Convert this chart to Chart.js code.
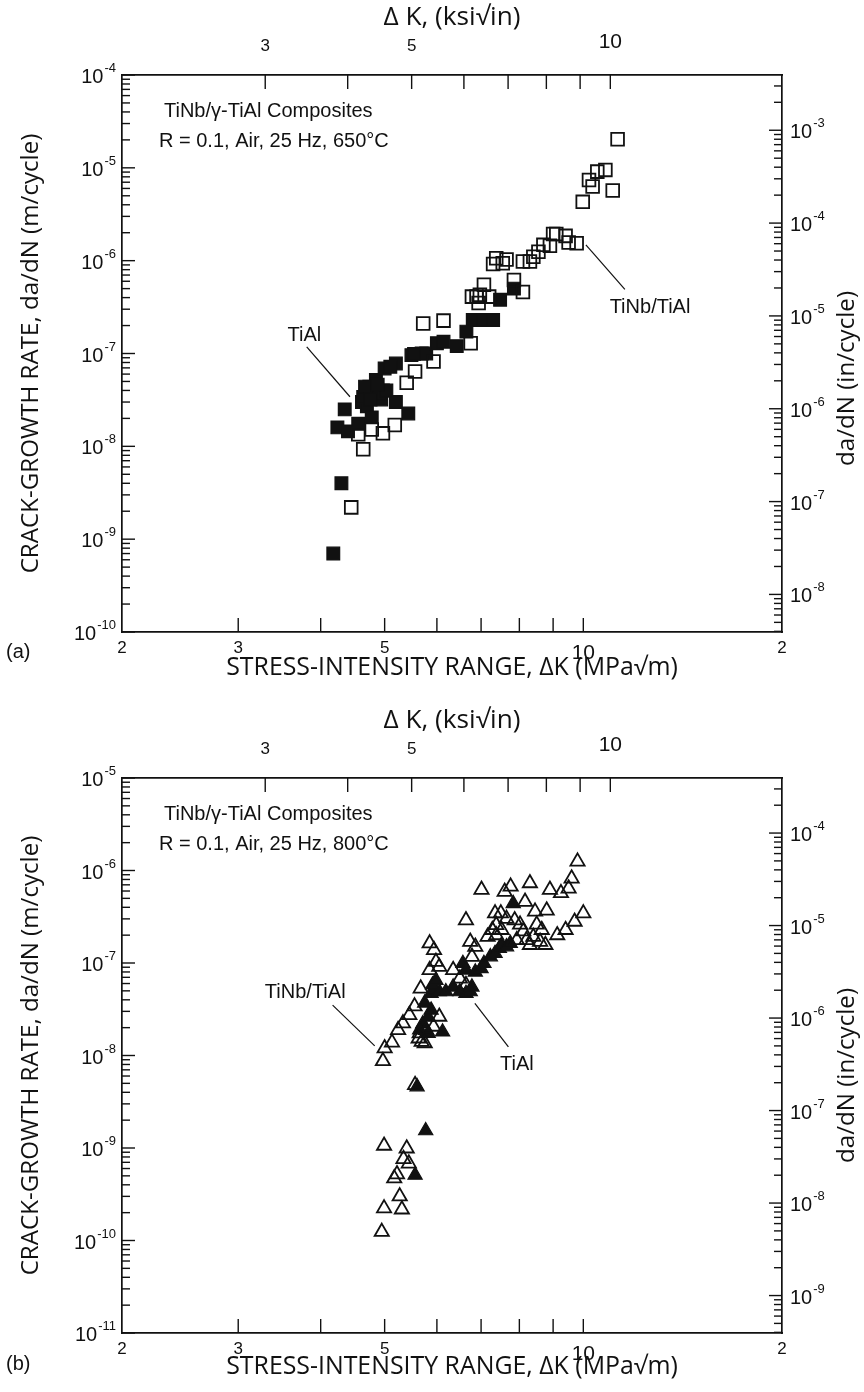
<!DOCTYPE html>
<html>
<head>
<meta charset="utf-8">
<script src="https://cdn.jsdelivr.net/npm/chart.js@4.4.1/dist/chart.umd.min.js"></script>
<style>
  html, body { margin: 0; padding: 0; background: #ffffff; }
  #wrap { position: relative; width: 864px; height: 1392px; background: #ffffff; overflow: hidden; }
  .panel { position: absolute; left: 0; width: 864px; height: 696px; }
  canvas { display: block; }
</style>
</head>
<body>
<div id="wrap">
  <div class="panel" style="top:0px"><canvas id="chartA" width="864" height="696"></canvas></div>
  <div class="panel" style="top:696px"><canvas id="chartB" width="864" height="696"></canvas></div>
</div>
<script>
// ---------------- DATA ----------------
// Panel (a): 650°C.  ΔK in MPa√m, da/dN in m/cycle
const a_TiAl_dK = [4.18, 4.30, 4.24, 4.40, 4.56, 4.35, 4.62, 4.74, 4.85, 4.97, 4.80, 4.94, 4.70, 4.64, 4.91, 5.03, 4.67, 4.88, 4.76, 5.00, 5.20, 5.10, 5.20, 5.43, 4.78, 5.49, 5.69, 5.54, 5.78, 6.00, 6.14, 6.43, 6.65, 6.80, 7.05, 7.30, 7.48, 7.85];
const a_TiAl_rate = [7.0e-10, 4.0e-9, 1.6e-8, 1.45e-8, 1.75e-8, 2.5e-8, 3.0e-8, 4.4e-8, 5.2e-8, 4.0e-8, 3.6e-8, 3.2e-8, 2.7e-8, 3.4e-8, 3.7e-8, 4.0e-8, 4.4e-8, 4.6e-8, 3.2e-8, 6.9e-8, 7.8e-8, 7.2e-8, 3.0e-8, 2.26e-8, 2.05e-8, 9.6e-8, 1.0e-7, 9.9e-8, 1.0e-7, 1.29e-7, 1.34e-7, 1.2e-7, 1.72e-7, 2.3e-7, 2.3e-7, 2.3e-7, 3.8e-7, 5.0e-7];
const a_TiNb_dK = [4.45, 4.64, 4.56, 4.78, 4.97, 5.18, 5.40, 5.56, 5.93, 5.72, 6.14, 6.75, 6.89, 7.07, 6.97, 7.20, 6.78, 6.94, 7.38, 7.65, 7.30, 7.55, 7.85, 8.10, 8.10, 8.30, 8.40, 8.55, 8.70, 8.90, 9.00, 9.10, 9.40, 9.50, 9.77, 9.98, 10.2, 10.33, 10.5, 10.8, 11.08, 11.27];
const a_TiNb_rate = [2.2e-9, 9.3e-9, 1.35e-8, 1.52e-8, 1.38e-8, 1.7e-8, 4.85e-8, 6.4e-8, 8.2e-8, 2.1e-7, 2.26e-7, 1.29e-7, 4.1e-7, 5.5e-7, 4.3e-7, 4.1e-7, 4.1e-7, 3.5e-7, 1.06e-6, 1.03e-6, 9.2e-7, 9.4e-7, 6.2e-7, 4.6e-7, 9.8e-7, 9.8e-7, 1.1e-6, 1.25e-6, 1.48e-6, 1.45e-6, 1.94e-6, 1.94e-6, 1.85e-6, 1.57e-6, 1.54e-6, 4.3e-6, 7.4e-6, 6.3e-6, 9.1e-6, 9.5e-6, 5.7e-6, 2.03e-5];

// Panel (b): 800°C
const b_TiAl_dK = [5.56, 5.77, 5.60, 7.83, 6.12, 5.71, 5.82, 5.88, 5.75, 5.88, 5.94, 6.05, 6.19, 6.35, 6.50, 6.64, 6.74, 6.78, 5.91, 5.98, 6.57, 6.64, 6.86, 7.00, 7.07, 7.23, 7.35, 7.46, 7.52, 7.65, 7.75, 5.65, 5.82];
const b_TiAl_rate = [5.1e-10, 1.54e-9, 4.6e-9, 4.4e-7, 1.8e-8, 2.2e-8, 2.6e-8, 3.1e-8, 3.7e-8, 4.7e-8, 5.1e-8, 4.9e-8, 4.9e-8, 5.5e-8, 4.9e-8, 4.7e-8, 4.9e-8, 5.5e-8, 5.8e-8, 6.5e-8, 9.9e-8, 8.4e-8, 8.0e-8, 8.7e-8, 9.9e-8, 1.17e-7, 1.27e-7, 1.44e-7, 1.57e-7, 1.5e-7, 1.63e-7, 1.9e-8, 1.74e-8];
const b_TiNb_dK = [4.95, 4.99, 5.31, 5.27, 5.17, 5.22, 5.44, 5.34, 5.40, 4.99, 5.56,
  4.97, 5.00, 5.13, 5.24, 5.33, 5.45, 5.55, 5.67, 5.85, 5.98, 5.85, 5.94, 6.05, 5.65, 5.78, 5.69, 5.75, 5.63, 5.93, 6.05,
  6.35, 6.50, 6.64, 6.64, 6.74, 6.86, 7.01, 6.78, 7.16, 7.28, 7.38, 7.35, 7.50, 7.60, 7.76, 7.38, 7.52, 7.65, 7.87, 8.02,
  8.11, 7.93, 8.16, 8.30, 8.20, 8.40, 8.60, 8.30, 8.45, 8.80, 8.76, 8.50, 8.65, 8.90, 9.13, 9.40, 9.70, 10.0, 9.25, 9.50,
  9.60, 9.80];
const b_TiNb_rate = [1.24e-10, 2.23e-10, 2.17e-10, 3.0e-10, 4.7e-10, 5.2e-10, 6.8e-10, 7.6e-10, 9.9e-10, 1.06e-9, 4.8e-9,
  8.7e-9, 1.2e-8, 1.38e-8, 1.89e-8, 2.23e-8, 2.74e-8, 3.4e-8, 5.3e-8, 8.4e-8, 1.03e-7, 1.63e-7, 1.38e-7, 9.1e-8, 1.74e-8, 1.89e-8, 1.41e-8, 1.36e-8, 1.53e-8, 2.05e-8, 2.63e-8,
  8.4e-8, 6.8e-8, 5.8e-8, 2.9e-7, 1.7e-7, 1.5e-7, 6.2e-7, 1.17e-7, 1.92e-7, 2.28e-7, 2.58e-7, 3.44e-7, 3.44e-7, 5.9e-7, 6.7e-7, 2.0e-7, 2.28e-7, 3.0e-7, 2.9e-7, 2.6e-7,
  2.2e-7, 1.77e-7, 4.6e-7, 7.3e-7, 1.77e-7, 1.92e-7, 1.7e-7, 1.57e-7, 3.6e-7, 3.7e-7, 1.57e-7, 2.6e-7, 2.28e-7, 6.2e-7, 2.0e-7, 2.28e-7, 2.8e-7, 3.44e-7, 5.7e-7, 6.4e-7,
  8.2e-7, 1.25e-6];

// Axis ticks / labels
const bottomLabelValues = [2, 3, 5, 10, 20];
const bottomLabelTexts = ['2', '3', '5', '10', '2'];
const bottomTickValues = [3, 4, 5, 6, 7, 8, 9, 10];
const topLabelValues = [3, 5, 10];
const topLabelTexts = ['3', '5', '10'];
const topTickValues = [3, 4, 5, 6, 7, 8, 9, 10];

// Unit conversions for the secondary axes
const IN_PER_M = 39.37;          // m/cycle -> in/cycle
const MPA_PER_KSI = 1.0988;      // ksi√in -> MPa√m

// Text
const boxLine1 = 'TiNb/γ-TiAl Composites';
const boxLine2a = 'R = 0.1, Air, 25 Hz, 650°C';
const boxLine2b = 'R = 0.1, Air, 25 Hz, 800°C';
const titleLeft = 'CRACK-GROWTH RATE, da/dN (m/cycle)';
const titleRight = 'da/dN (in/cycle)';
const titleBottom = 'STRESS-INTENSITY RANGE, ΔK (MPa√m)';
const titleTop = 'Δ K, (ksi√in)';

// Annotations (anchored in data coordinates)
const a_notes = [
  { text: 'TiAl', dK: 3.78, rate: 1.58e-7, from: [3.81, 1.18e-7], to: [4.43, 3.42e-8] },
  { text: 'TiNb/TiAl', dK: 12.62, rate: 3.17e-7, from: [10.09, 1.48e-6], to: [11.56, 4.9e-7] }
];
const b_notes = [
  { text: 'TiNb/TiAl', dK: 3.79, rate: 4.85e-8, from: [4.17, 3.5e-8], to: [4.83, 1.27e-8] },
  { text: 'TiAl', dK: 7.93, rate: 7.9e-9, from: [6.85, 3.66e-8], to: [7.70, 1.24e-8] }
];

// ---------------- DRAWING ----------------
const NUMFONT = '"Liberation Sans", Arial, Helvetica, sans-serif';
const TITLEFONT = '"Open Sans", "DejaVu Sans", sans-serif';
const INK = '#111111';

function fitFont(ctx, text, family, target, base) {
  ctx.font = base + 'px ' + family;
  const w = ctx.measureText(text).width;
  return base * target / w;
}

function powLabel(ctx, x, y, exp, align) {
  ctx.font = '20px ' + NUMFONT;
  const wb = ctx.measureText('10').width;
  ctx.font = '13px ' + NUMFONT;
  const e = String(exp);
  const we = ctx.measureText(e).width;
  const x0 = align === 'right' ? x - wb - we - 1 : x;
  ctx.textAlign = 'left';
  ctx.textBaseline = 'alphabetic';
  ctx.font = '20px ' + NUMFONT;
  ctx.fillText('10', x0, y + 8);
  ctx.font = '13px ' + NUMFONT;
  ctx.fillText(e, x0 + wb + 1, y - 3);
}

function seg(ctx, x1, y1, x2, y2) {
  ctx.beginPath(); ctx.moveTo(x1, y1); ctx.lineTo(x2, y2); ctx.stroke();
}

function logYTicks(ctx, scale, x, dir) {
  const lo = Math.floor(Math.log10(scale.min)) - 1, hi = Math.ceil(Math.log10(scale.max)) + 1;
  for (let e = lo; e <= hi; e++) {
    for (let m = 1; m <= 9; m++) {
      const v = m * Math.pow(10, e);
      if (v < scale.min * 0.9999 || v > scale.max * 1.0001) continue;
      const y = scale.getPixelForValue(v);
      const len = m === 1 ? 13 : 8;
      seg(ctx, x, y, x + dir * len, y);
    }
  }
}

function decades(scale) {
  const out = [];
  const lo = Math.ceil(Math.log10(scale.min) - 1e-9), hi = Math.floor(Math.log10(scale.max) + 1e-9);
  for (let e = lo; e <= hi; e++) out.push(e);
  return out;
}

const decoPlugin = {
  id: 'deco',
  afterDraw(chart, args, o) {
    const ctx = chart.ctx;
    const ca = chart.chartArea;
    const sx = chart.scales.x, sy = chart.scales.y, sx2 = chart.scales.x2, sy2 = chart.scales.y2;
    ctx.save();
    ctx.strokeStyle = INK;
    ctx.fillStyle = INK;
    ctx.lineWidth = 1.4;

    // inward tick marks
    logYTicks(ctx, sy, ca.left, 1);
    logYTicks(ctx, sy2, ca.right, -1);
    bottomTickValues.forEach(v => { const x = sx.getPixelForValue(v); seg(ctx, x, ca.bottom, x, ca.bottom - 14); });
    topTickValues.forEach(v => { const x = sx2.getPixelForValue(v); seg(ctx, x, ca.top, x, ca.top + 14); });

    // left decade labels
    decades(sy).forEach(e => powLabel(ctx, ca.left - 6, sy.getPixelForValue(Math.pow(10, e)), '-' + Math.abs(e), 'right'));
    // right decade labels
    decades(sy2).forEach(e => powLabel(ctx, ca.right + 8, sy2.getPixelForValue(Math.pow(10, e)), '-' + Math.abs(e), 'left'));

    // bottom / top numeric labels
    ctx.textAlign = 'center';
    ctx.textBaseline = 'middle';
    bottomLabelValues.forEach((v, i) => {
      const big = bottomLabelTexts[i] === '10';
      ctx.font = (big ? '21px ' : '17px ') + NUMFONT;
      ctx.fillText(bottomLabelTexts[i], sx.getPixelForValue(v), ca.bottom + (big ? 21 : 16));
    });
    topLabelValues.forEach((v, i) => {
      const big = topLabelTexts[i] === '10';
      ctx.font = (big ? '21px ' : '17px ') + NUMFONT;
      ctx.fillText(topLabelTexts[i], sx2.getPixelForValue(v), ca.top - (big ? 33 : 29));
    });

    // axis titles
    ctx.font = fitFont(ctx, titleBottom, TITLEFONT, 452, 20) + 'px ' + TITLEFONT;
    ctx.textAlign = 'center';
    ctx.textBaseline = 'middle';
    ctx.fillText(titleBottom, (ca.left + ca.right) / 2, ca.bottom + o.titleDy);
    ctx.font = fitFont(ctx, titleTop, TITLEFONT, 137, 20) + 'px ' + TITLEFONT;
    ctx.fillText(titleTop, (ca.left + ca.right) / 2, ca.top - 57);
    ctx.font = fitFont(ctx, titleLeft, TITLEFONT, 440, 20) + 'px ' + TITLEFONT;
    ctx.save();
    ctx.translate(31, (ca.top + ca.bottom) / 2);
    ctx.rotate(-Math.PI / 2);
    ctx.fillText(titleLeft, 0, 0);
    ctx.restore();
    ctx.save();
    ctx.translate(847, (ca.top + ca.bottom) / 2 + o.rightTitleShift);
    ctx.rotate(-Math.PI / 2);
    ctx.fillText(titleRight, 0, 0);
    ctx.restore();

    // panel tag
    ctx.font = '20px ' + NUMFONT;
    ctx.textAlign = 'left';
    ctx.fillText(o.tag, 6, ca.bottom + o.tagDy);

    // condition box text
    ctx.font = '20px ' + NUMFONT;
    ctx.textBaseline = 'middle';
    ctx.fillText(boxLine1, ca.left + 42, ca.top + 36);
    ctx.fillText(o.line2, ca.left + 37, ca.top + 66);

    // annotations
    ctx.lineWidth = 1.2;
    o.notes.forEach(n => {
      ctx.textAlign = 'center';
      ctx.fillText(n.text, sx.getPixelForValue(n.dK), sy.getPixelForValue(n.rate));
      seg(ctx, sx.getPixelForValue(n.from[0]), sy.getPixelForValue(n.from[1]),
               sx.getPixelForValue(n.to[0]), sy.getPixelForValue(n.to[1]));
    });
    ctx.restore();
  }
};

function pts(xs, ys) { return xs.map((x, i) => ({ x: x, y: ys[i] })); }

function makeChart(id, cfg) {
  const hidden = { display: false };
  return new Chart(document.getElementById(id), {
    type: 'scatter',
    data: {
      datasets: [
        {
          label: 'TiNb/TiAl',
          data: pts(cfg.openK, cfg.openR),
          pointStyle: cfg.symbol,
          pointRadius: cfg.radius,
          pointBackgroundColor: 'rgba(255,255,255,0)',
          pointBorderColor: INK,
          pointBorderWidth: 1.8,
          order: 0
        },
        {
          label: 'TiAl',
          data: pts(cfg.fillK, cfg.fillR),
          pointStyle: cfg.symbol,
          pointRadius: cfg.radius,
          pointBackgroundColor: INK,
          pointBorderColor: INK,
          pointBorderWidth: 1.2,
          order: 1
        }
      ]
    },
    options: {
      responsive: false,
      animation: false,
      devicePixelRatio: 1,
      layout: { padding: 0, autoPadding: false },
      plugins: {
        legend: hidden,
        tooltip: { enabled: false },
        deco: cfg.deco
      },
      scales: {
        x: {
          type: 'logarithmic', position: 'bottom', min: 2, max: 20,
          ticks: hidden, grid: hidden,
          border: { display: true, color: INK, width: 1.7 },
          afterFit: s => { s.height = cfg.bottomH; }
        },
        x2: {
          type: 'logarithmic', position: 'top', min: 2 / MPA_PER_KSI, max: 20 / MPA_PER_KSI,
          ticks: hidden, grid: hidden,
          border: { display: true, color: INK, width: 1.7 },
          afterFit: s => { s.height = cfg.topH; }
        },
        y: {
          type: 'logarithmic', position: 'left', min: cfg.yMin, max: cfg.yMax,
          ticks: hidden, grid: hidden,
          border: { display: true, color: INK, width: 1.7 },
          afterFit: s => { s.width = 122; }
        },
        y2: {
          type: 'logarithmic', position: 'right', min: cfg.yMin * IN_PER_M, max: cfg.yMax * IN_PER_M,
          ticks: hidden, grid: hidden,
          border: { display: true, color: INK, width: 1.7 },
          afterFit: s => { s.width = 82; }
        }
      }
    },
    plugins: [decoPlugin]
  });
}

makeChart('chartA', {
  openK: a_TiNb_dK, openR: a_TiNb_rate, fillK: a_TiAl_dK, fillR: a_TiAl_rate,
  symbol: 'rect', radius: 9, yMin: 1e-10, yMax: 1e-4, topH: 75, bottomH: 64,
  deco: { tag: '(a)', tagDy: 20, titleDy: 36, line2: boxLine2a, notes: a_notes, rightTitleShift: 25 }
});
makeChart('chartB', {
  openK: b_TiNb_dK, openR: b_TiNb_rate, fillK: b_TiAl_dK, fillR: b_TiAl_rate,
  symbol: 'triangle', radius: 8.2, yMin: 1e-11, yMax: 1e-5, topH: 82, bottomH: 59,
  deco: { tag: '(b)', tagDy: 31, titleDy: 34, line2: boxLine2b, notes: b_notes, rightTitleShift: 20 }
});
</script>
</body>
</html>
